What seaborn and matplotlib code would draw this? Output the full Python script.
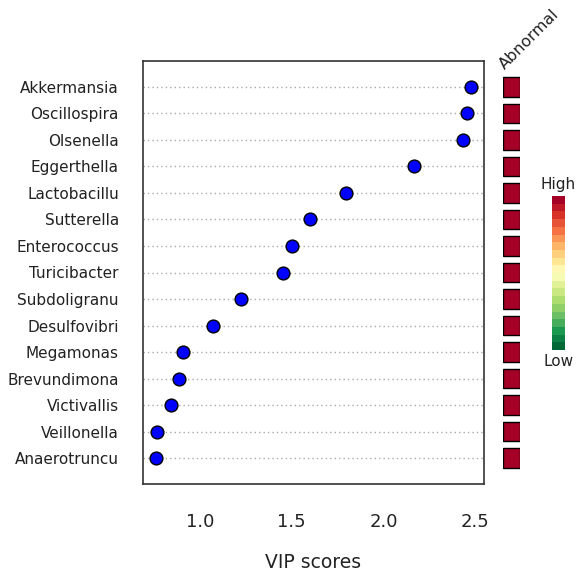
import numpy as np
import pandas as pd
import matplotlib
matplotlib.use("Agg")
import matplotlib.pyplot as plt
import seaborn as sns
from matplotlib.colors import ListedColormap

# ---- data ----
genera = ["Akkermansia", "Oscillospira", "Olsenella", "Eggerthella", "Lactobacillu",
          "Sutterella", "Enterococcus", "Turicibacter", "Subdoligranu", "Desulfovibri",
          "Megamonas", "Brevundimona", "Victivallis", "Veillonella", "Anaerotruncu"]
vip_scores = [2.478, 2.457, 2.435, 2.168, 1.795, 1.598, 1.500, 1.451, 1.223, 1.071,
              0.908, 0.886, 0.842, 0.766, 0.761]
abnormal_level = [1.0, 1.0, 1.0, 1.0, 1.0, 1.0, 1.0, 1.0, 1.0, 1.0, 1.0, 1.0, 1.0, 1.0, 1.0]
x_ticks = [1.0, 1.5, 2.0, 2.5]
x_label = "VIP scores"
group_label = "Abnormal"

df = pd.DataFrame({"genus": genera, "vip": vip_scores, "abnormal": abnormal_level})

sns.set_style("white")
plt.rcParams["font.family"] = ["DejaVu Sans"]

W, H = 582, 575
fig = plt.figure(figsize=(W / 100, H / 100), dpi=100)

def px_axes(x0, y0, x1, y1):
    return fig.add_axes([x0 / W, 1 - y1 / H, (x1 - x0) / W, (y1 - y0) / H])

# main dot chart
ax = px_axes(143, 61, 484, 484)
sns.stripplot(data=df, x="vip", y="genus", order=genera, orient="h", jitter=False,
              color="#0000FF", edgecolor="black", linewidth=1.0, size=9.2, ax=ax, zorder=3)
ax.set_xlim(0.69, 2.548)
ax.set_ylim(14.98, -0.98)
ax.set_xticks(x_ticks)
ax.set_xticklabels([f"{t:.1f}" for t in x_ticks], fontsize=13, color="#222222")
ax.tick_params(axis="x", direction="out", length=8, width=1.1, color="#333333", pad=13)
ax.tick_params(axis="y", length=0, pad=17.3, labelsize=11, labelcolor="#222222")
ax.set_ylabel("")
ax.set_xlabel(x_label, fontsize=13.5, color="#222222", labelpad=16)
ax.grid(False)
for yi in range(len(genera)):
    ax.axhline(yi, color="#aaaaaa", linestyle=(0, (1.0, 2.2)), linewidth=1.0, zorder=1)
for s in ax.spines.values():
    s.set_color("#333333")
    s.set_linewidth(1.2)

# status squares
cmap = plt.get_cmap("RdYlGn_r")
axs = px_axes(502.7, 61, 520.3, 484)
sns.barplot(data=df, x="abnormal", y="genus", order=genera, orient="h",
            color=cmap(1.0), edgecolor="black", linewidth=1.0, width=0.735,
            saturation=1, ax=axs)
axs.set_ylim(14.98, -0.98)
axs.set_xlim(0, 1)
axs.axis("off")
fig.text(507 / W, 1 - 72 / H, group_label, rotation=45, rotation_mode="anchor",
         ha="left", va="bottom", fontsize=11.5, color="#222222")

# colour key
n_steps = 20
axc = px_axes(552.3, 196, 565, 350)
key = np.linspace(0, 1, n_steps)[::-1].reshape(-1, 1)
sns.heatmap(key, cmap=ListedColormap(cmap(np.linspace(0, 1, n_steps))), cbar=False,
            xticklabels=False, yticklabels=False, ax=axc, vmin=0, vmax=1)
fig.text(558.5 / W, 1 - 184 / H, "High", ha="center", va="center", fontsize=11, color="#222222")
fig.text(558.5 / W, 1 - 362 / H, "Low", ha="center", va="center", fontsize=11, color="#222222")

fig.savefig("out.png", dpi=100)
